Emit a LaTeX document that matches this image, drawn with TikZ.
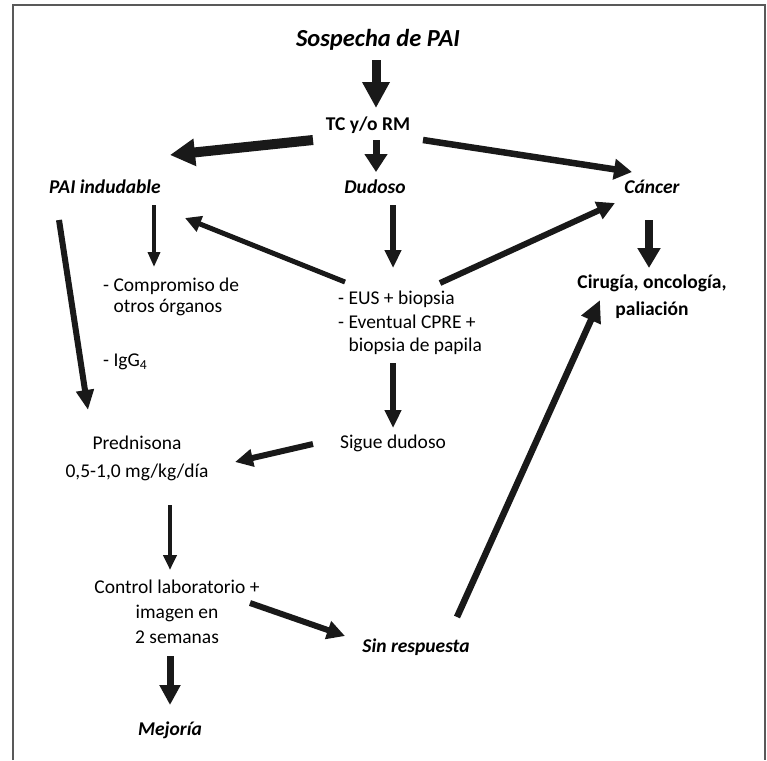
\documentclass[tikz,border=0pt]{standalone}
\usepackage{fontspec}
\setmainfont{Carlito}
\usetikzlibrary{arrows.meta,calc}
\begin{document}
\begin{tikzpicture}[x=1pt,y=-1pt,
  txt/.style={inner sep=0pt, font=\fontsize{19.5}{#1}\selectfont},
  txt/.default=26,
  bi/.style={inner sep=0pt, font=\fontsize{19.5}{24}\selectfont\bfseries\itshape},
  arr/.style n args={3}{draw=black!90, line width=#1, -{Triangle[width=#2,length=#3]}}]
\useasboundingbox (0,0) rectangle (767,760);
\draw[line width=1.6pt, black!65] (13,760) -- (13,5) -- (765,5) -- (765,760);

% nodes
\node[inner sep=0pt, font=\fontsize{24.5}{28}\selectfont\bfseries\itshape] (sospecha) at (378,40) {Sospecha de PAI};
\node[inner sep=0pt, font=\fontsize{19.5}{24}\selectfont\bfseries] (tc) at (368,125) {TC y/o RM};
\node[bi] (pai) at (105,187) {PAI indudable};
\node[bi] (dudoso) at (375,187) {Dudoso};
\node[bi] (cancer) at (652,187) {Cáncer};
\node[txt=20.5, align=left, anchor=west] (comp) at (103,297) {- Compromiso de\\\hphantom{- }otros órganos};
\node[txt, anchor=west] (igg) at (103,362) {- IgG\textsubscript{4}};
\node[txt=23.5, align=left, anchor=west] (eus) at (338,323) {- EUS + biopsia\\- Eventual CPRE +\\\hphantom{- }biopsia de papila};
\node[inner sep=0pt, font=\fontsize{19.5}{27}\selectfont\bfseries, align=center] (cirugia) at (652,297) {Cirugía, oncología,\\paliación};
\node[txt] (sigue) at (393,443) {Sigue dudoso};
\node[txt=28, align=center] (pred) at (137,458) {Prednisona\\0,5-1,0 mg/kg/día};
\node[txt=25, align=center] (control) at (177,612) {Control laboratorio +\\imagen en\\2 semanas};
\node[bi] (sinresp) at (416,647) {Sin respuesta};
\node[bi] (mejoria) at (170,730) {Mejoría};

% connectors
\draw[arr={9pt}{26pt}{26pt}] ($(sospecha)+(-2,20)$) -- ($(tc)+(8,-17)$);
\draw[arr={10pt}{26pt}{25pt}] ($(tc)+(-55,15)$) -- ($(pai)+(65,-32)$);
\draw[arr={7pt}{22pt}{18pt}] ($(tc)+(8,15)$) -- ($(dudoso)+(1,-15)$);
\draw[arr={6.5pt}{20pt}{18pt}] ($(tc)+(55,15)$) -- ($(cancer)+(-20,-15)$);
\draw[arr={3.5pt}{12pt}{15pt}] ($(pai)+(49,18)$) -- ($(comp.west)+(51,-30)$);
\draw[arr={6pt}{17pt}{20pt}] ($(pai)+(-46,33)$) -- ($(pred)+(-49,-48)$);
\draw[arr={5pt}{16pt}{16pt}] ($(eus.west)+(7,-41)$) -- ($(pai)+(80,31)$);
\draw[arr={5.5pt}{16pt}{18pt}] ($(dudoso)+(18,18)$) -- ($(eus.west)+(55,-55)$);
\draw[arr={6pt}{18pt}{18pt}] ($(eus.west)+(102,-40)$) -- ($(cancer)+(-37,16)$);
\draw[arr={8pt}{22pt}{20pt}] ($(cancer)+(-3,33)$) -- ($(cirugia)+(-3,-29)$);
\draw[arr={5.5pt}{16pt}{18pt}] ($(eus.west)+(55,40)$) -- ($(sigue)+(0,-15)$);
\draw[arr={6pt}{17pt}{18pt}] ($(sigue)+(-80,1)$) -- ($(pred)+(98,4)$);
\draw[arr={4pt}{13pt}{15pt}] ($(pred)+(33,47)$) -- ($(control)+(-7,-42)$);
\draw[arr={6pt}{18pt}{18pt}] ($(control)+(73,-9)$) -- ($(sinresp)+(-71,-11)$);
\draw[arr={7pt}{20pt}{20pt}] ($(control)+(-7,44)$) -- ($(mejoria)+(0,-25)$);
\draw[arr={6.5pt}{20pt}{22pt}] ($(sinresp)+(41,-30)$) -- ($(cirugia)+(-52,3)$);
\end{tikzpicture}
\end{document}
